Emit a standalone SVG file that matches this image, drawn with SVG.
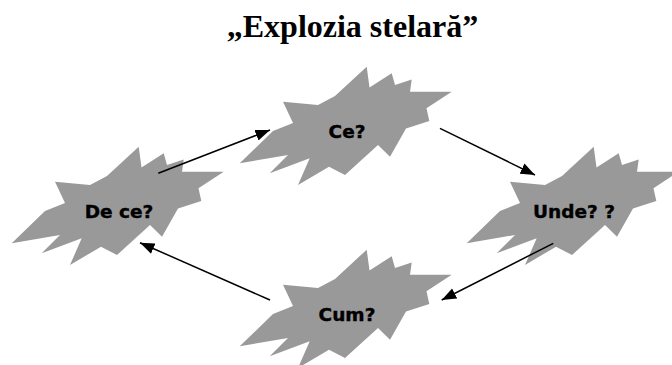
<svg xmlns="http://www.w3.org/2000/svg" xmlns:xlink="http://www.w3.org/1999/xlink" width="672" height="365" viewBox="0 0 672 365">
  <style>
    .star { fill: #999999; stroke: none; }
    .lbl { font-family: "DejaVu Sans", Verdana, sans-serif; font-weight: bold; font-size: 18.5px; fill: #000; stroke: #000; stroke-width: 0.4px; text-anchor: middle; }
    .title { font-family: "Liberation Serif", "Times New Roman", serif; font-weight: bold; font-size: 32px; fill: #000; text-anchor: middle; }
    .conn { stroke: #000; stroke-width: 1.5; fill: none; marker-end: url(#arrow); }
  </style>
  <defs>
    <marker id="arrow" markerUnits="userSpaceOnUse" markerWidth="16" markerHeight="12" viewBox="0 -6 16 12" refX="14.5" refY="0" orient="auto">
      <path d="M0,-5.6 L14.5,0 L0,5.6 Z" fill="#000"/>
    </marker>
    <path id="star" class="star" d="M366.7,66.7 L369.5,87.5 L391.7,73.3 L395,85 L411.7,79.5 L410,91.7 L451.7,91.7 L426.5,108.3 L429.3,121 L406,128.5 L390,156.7 L378,145 L345,175 L329,166.7 L298,185 L309.7,158.3 L269.7,173.3 L288,155 L239.7,163.3 L273,131 L293,123 L283,101.7 L318,105 L335,96 Z"/>
  </defs>
  <rect width="672" height="365" fill="#fff"/>
  <text class="title" x="352.5" y="37">„Explozia stelară”</text>
  <g id="node-ce">
    <use xlink:href="#star" href="#star"/>
    <text class="lbl" x="347" y="137.5">Ce?</text>
  </g>
  <g id="node-de-ce" transform="translate(-228,80)">
    <use xlink:href="#star" href="#star"/>
    <text class="lbl" x="347" y="137.5">De ce?</text>
  </g>
  <g id="node-unde" transform="translate(227,80)">
    <use xlink:href="#star" href="#star"/>
    <text class="lbl" x="347" y="137.5">Unde? ?</text>
  </g>
  <g id="node-cum" transform="translate(0,183)">
    <use xlink:href="#star" href="#star"/>
    <text class="lbl" x="347" y="137.5">Cum?</text>
  </g>
  <g id="connectors">
    <line class="conn" x1="158.3" y1="173.3" x2="270" y2="130"/>
    <line class="conn" x1="440" y1="128.3" x2="535" y2="175"/>
    <line class="conn" x1="553.3" y1="243.3" x2="441.7" y2="300"/>
    <line class="conn" x1="270" y1="300" x2="140" y2="242.7"/>
  </g>
</svg>
